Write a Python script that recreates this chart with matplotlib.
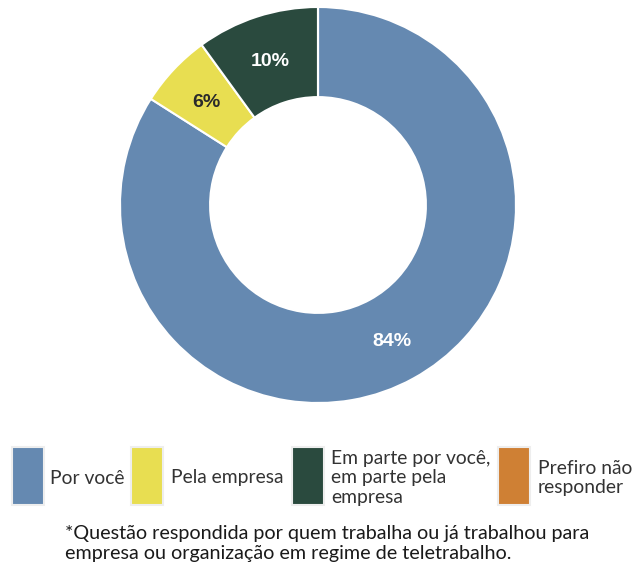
import matplotlib
matplotlib.use("Agg")
import matplotlib.pyplot as plt
from matplotlib.patches import Rectangle
import numpy as np

categories = ["Por você", "Pela empresa", "Em parte por você,\nem parte pela\nempresa", "Prefiro não\nresponder"]
values = [84, 6, 10, 0]
colors = ["#6589B1", "#E8DE51", "#2A4A3E", "#CF8034"]
label_colors = ["white", "#2b2b2b", "white", "white"]
footnote = "*Questão respondida por quem trabalha ou já trabalhou para\nempresa ou organização em regime de teletrabalho."

W, H = 635, 569
fig = plt.figure(figsize=(W / 100, H / 100), dpi=100)
fig.patch.set_facecolor("white")

cx, cy, R = 318, 205, 198
ax = fig.add_axes([(cx - R) / W, (H - cy - R) / H, 2 * R / W, 2 * R / H])
wedges, _ = ax.pie(values, colors=colors, startangle=90, counterclock=False,
                   radius=1, wedgeprops=dict(width=0.455, edgecolor="white", linewidth=1.5))
ax.set_xlim(-1, 1)
ax.set_ylim(-1, 1)
ax.set_aspect("auto")
ax.axis("off")

rmid = 1 - 0.455 / 2
for w, v, lc in zip(wedges, values, label_colors):
    if v <= 0:
        continue
    th = np.deg2rad((w.theta1 + w.theta2) / 2)
    ax.text(rmid * np.cos(th), rmid * np.sin(th) - 0.01, f"{v}%", ha="center", va="center",
            fontsize=14, fontweight="bold", color=lc, family="Liberation Sans")

# legend (manual layout)
font = "Lato"
fs = 13.9
tc = "#333333"
patch_x = [12, 131, 292, 498]
text_x = [50, 171, 331, 538]
py0, py1 = 447, 505
for px, tx, col, lab in zip(patch_x, text_x, colors, categories):
    fig.patches.append(Rectangle((px / W, 1 - py1 / H), 32 / W, (py1 - py0) / H,
                                 transform=fig.transFigure, facecolor=col,
                                 edgecolor="#eeeeee", linewidth=1.5))
    fig.text(tx / W, 1 - 478 / H, lab, ha="left", va="center", fontsize=fs,
             family=font, color=tc, linespacing=1.2)

fig.text(65 / W, 1 - 543.5 / H, footnote, ha="left", va="center", fontsize=14.2,
         family=font, color="#1a1a1a", linespacing=1.17)

fig.savefig("out.png", dpi=100, facecolor="white")
